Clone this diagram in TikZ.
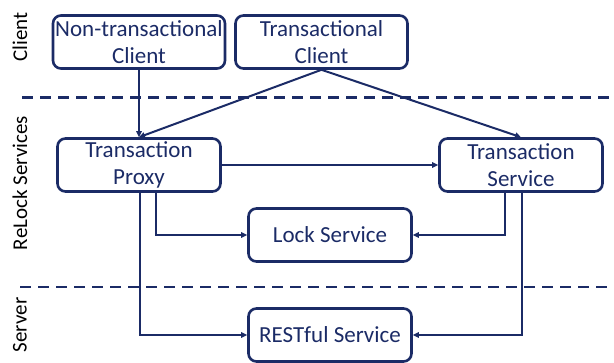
\documentclass[tikz,border=0pt]{standalone}
\usepackage{fontspec}
\setmainfont{Carlito}
\usetikzlibrary{arrows.meta}
\definecolor{navy}{HTML}{1B2B66}
\begin{document}
\begin{tikzpicture}[x=1pt,y=-1pt,
  box/.style={draw=navy, line width=2.6pt, rounded corners=8pt, text=navy,
    align=center, inner sep=0pt, minimum width=163pt, minimum height=53pt,
    font=\fontsize{23}{27}\selectfont},
  conn/.style={draw=navy, line width=2pt, -{Triangle[length=6pt,width=5.5pt]}},
  sep/.style={draw=navy, line width=2.2pt, dash pattern=on 11pt off 7pt},
  lbl/.style={rotate=90, font=\fontsize{21}{24}\selectfont, text=black, inner sep=0pt}]
\useasboundingbox (0,0) rectangle (614,363);
% separators
\draw[sep] (22,97.5) -- (614,97.5);
\draw[sep] (20,287) -- (614,287);
% side labels
\node[lbl] (lc) at (20,37) {Client};
\node[lbl] (lr) at (20,183) {ReLock Services};
\node[lbl] (ls) at (20,325) {Server};
% boxes
\node[box, minimum width=172pt] (ntc) at (139,42) {Non-transactional\\Client};
\node[box, minimum width=172pt] (tc) at (321.5,42) {Transactional\\Client};
\node[box] (proxy) at (139,165) {Transaction\\Proxy};
\node[box] (svc) at (521,165) {Transaction\\Service};
\node[box] (lock) at (330,235) {Lock Service};
\node[box] (rest) at (330,335) {RESTful Service};
% connectors
\draw[conn] (ntc.south) -- (proxy.north);
\draw[conn] (tc.south) -- (proxy.north);
\draw[conn] (tc.south) -- (svc.north);
\draw[conn] (proxy.east) -- (svc.west);
\draw[conn] ([xshift=17pt]proxy.south) |- (lock.west);
\draw[conn] ([xshift=1pt]proxy.south) |- (rest.west);
\draw[conn] ([xshift=-16pt]svc.south) |- (lock.east);
\draw[conn] ([xshift=0.7pt]svc.south) |- (rest.east);
\end{tikzpicture}
\end{document}
